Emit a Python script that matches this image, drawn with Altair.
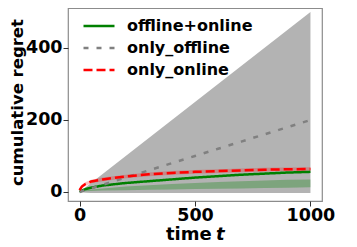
import altair as alt
import pandas as pd

# sample times
t = [0, 10, 25, 50, 100, 200, 300, 400, 500, 600, 700, 800, 900, 1000]

# only_offline: mean and wide band
offline_mean = [0, 2, 5, 10, 20, 40, 60, 80, 100, 120, 140, 160, 180, 200]
offline_hi = [0, 5, 12.5, 25, 50, 100, 150, 200, 250, 300, 350, 400, 450, 500]
offline_lo = [0, -1, -2, -3, -3, -3, -3, -3, -3, -3, -3, -3, -3, -3]

# offline+online
both_mean = [0, 4, 8, 12, 18, 25, 30, 35, 40, 44, 48, 51, 54, 56]
both_hi = [0, 3, 5, 7, 10, 15, 19, 22, 25, 28, 30, 32, 34, 35]
both_lo = [0, 1, 2, 3, 4, 5, 6, 7, 8, 9, 10, 11, 12, 13]

# only_online
online_mean = [5, 15, 22, 29, 35, 43, 49, 53, 56, 58, 60, 62, 63, 64]
online_hi = [9, 20, 27, 34, 40, 48, 54, 58, 61, 63, 65, 67, 68, 69]
online_lo = [1, 10, 17, 24, 30, 38, 44, 48, 51, 53, 55, 57, 58, 59]

series = ["offline+online", "only_offline", "only_online"]
colors = ["#008000", "#808080", "#ff0000"]
dashes = [[1, 0], [5, 8], [9, 4]]

bands = pd.DataFrame({
    "t": t,
    "off_lo": offline_lo, "off_hi": offline_hi,
    "both_lo": both_lo, "both_hi": both_hi,
    "on_lo": online_lo, "on_hi": online_hi,
})

lines = pd.DataFrame({
    "t": t * 3,
    "series": [series[0]] * len(t) + [series[1]] * len(t) + [series[2]] * len(t),
    "value": both_mean + offline_mean + online_mean,
})

xs = alt.Scale(domain=[-50, 1050], nice=False, zero=False)
ys = alt.Scale(domain=[-25, 511], nice=False, zero=False)

font = "DejaVu Sans"

xaxis = alt.Axis(values=[0, 500, 1000], format="d", title=None, grid=False,
                 domain=False, tickSize=5, tickColor="#333333", labelPadding=0,
                 labelFontSize=17.5, labelFontWeight="bold", labelColor="black",
                 labelFont=font)
yaxis = alt.Axis(values=[0, 200, 400], format="d", title="cumulative regret",
                 grid=False, domain=False, tickSize=5, tickColor="#333333",
                 labelPadding=1, labelFontSize=17.5, labelFontWeight="bold",
                 labelColor="black", labelFont=font, titleFont=font,
                 titleFontSize=16.5, titleFontWeight="bold", titleColor="black",
                 titleX=-46, titleY=94, titleAngle=-90, titleAlign="center",
                 titleBaseline="alphabetic")

base = alt.Chart(bands)

gray_band = base.mark_area(color="#808080", opacity=0.6).encode(
    x=alt.X("t:Q", scale=xs, axis=xaxis),
    y=alt.Y("off_lo:Q", scale=ys, axis=yaxis),
    y2="off_hi:Q",
)
green_band = base.mark_area(color="#008000", opacity=0.3).encode(
    x=alt.X("t:Q", scale=xs), y=alt.Y("both_lo:Q", scale=ys), y2="both_hi:Q")
red_band = base.mark_area(color="#ff0000", opacity=0.25).encode(
    x=alt.X("t:Q", scale=xs), y=alt.Y("on_lo:Q", scale=ys), y2="on_hi:Q")

line_layer = alt.Chart(lines).mark_line(strokeWidth=2.5).encode(
    x=alt.X("t:Q", scale=xs),
    y=alt.Y("value:Q", scale=ys),
    color=alt.Color("series:N", scale=alt.Scale(domain=series, range=colors),
                    legend=alt.Legend(title=None, orient="none", legendX=14,
                                      legendY=10, symbolType="stroke",
                                      symbolSize=961, symbolStrokeWidth=2.5,
                                      labelFontSize=16, labelFontWeight="bold",
                                      labelFont=font, labelColor="black",
                                      labelOffset=11, rowPadding=6,
                                      clipHeight=16, padding=0)),
    strokeDash=alt.StrokeDash("series:N",
                              scale=alt.Scale(domain=series, range=dashes),
                              legend=alt.Legend(title=None, orient="none",
                                                legendX=14, legendY=10)),
)

title_df = pd.DataFrame({"a": ["time"], "b": ["t"]})
time_txt = alt.Chart(title_df).mark_text(
    font=font, fontSize=18, fontWeight="bold", align="left",
    baseline="alphabetic", color="black").encode(
    text="a:N", x=alt.value(98), y=alt.value(232))
t_txt = alt.Chart(title_df).mark_text(
    font=font, fontSize=18, fontWeight="bold", fontStyle="italic",
    align="left", baseline="alphabetic", color="black").encode(
    text="b:N", x=alt.value(148), y=alt.value(232))

chart = alt.layer(gray_band, green_band, red_band, line_layer, time_txt, t_txt
).properties(
    width=254, height=193,
    autosize=alt.AutoSizeParams(type="none"),
    padding={"left": 60, "top": 0, "right": 27, "bottom": 46},
    background="white",
).configure_view(stroke="#8c8c8c", strokeWidth=1.2)

chart.save("out.html", embed_options={"renderer": "svg", "actions": False})
